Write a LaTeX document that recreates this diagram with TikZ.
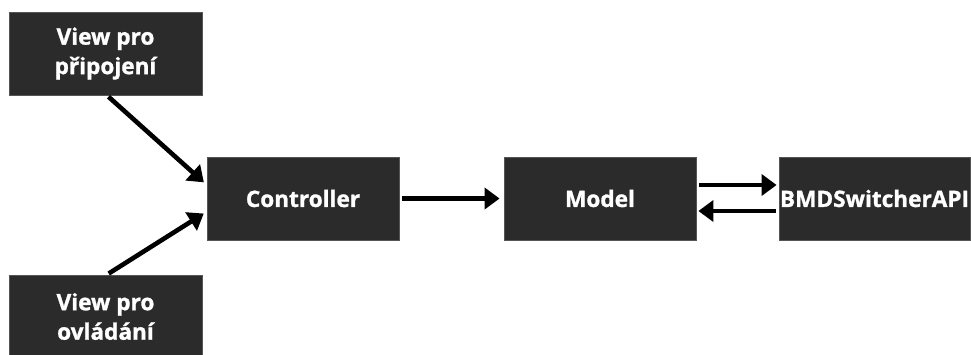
\documentclass[tikz,border=0pt]{standalone}
\usepackage{fontspec}
\setmainfont{Open Sans}[UprightFont=* Bold, FakeBold=1.2]
\usetikzlibrary{arrows.meta}
\definecolor{boxfill}{HTML}{2B2B2B}
\definecolor{boxline}{HTML}{555555}
\begin{document}
\begin{tikzpicture}[x=1pt,y=-1pt,
  box/.style={draw=boxline, line width=0.8pt, fill=boxfill, text=white, minimum width=193pt, minimum height=83pt,
    inner sep=0pt, align=center, font=\fontsize{22.6}{29.5}\selectfont},
  conn/.style={line width=4.6pt, -{Triangle[length=15pt,width=21pt]}}]
\useasboundingbox (0,0) rectangle (971,354);
\clip (0,0) rectangle (971,354);
\node[box] (v1) at (105.5,53.5) {View pro\\připojení};
\node[box] (v2) at (105.5,316.5) {View pro\\ovládání};
\node[box, minimum width=192pt] (ctrl) at (303,198.5) {Controller};
\node[box, minimum width=192pt] (model) at (600,198.5) {Model};
\node[box, minimum width=191pt] (bmd) at (874.5,198.5) {BMDSwitcherAPI};
\draw[conn, shorten <=2pt, shorten >=1pt] ([xshift=1.5pt]v1.south) -- ([yshift=15.5pt,xshift=-2pt]ctrl.west);
\draw[conn, shorten <=2pt, shorten >=1pt] ([xshift=1.5pt]v2.north) -- ([yshift=-14.5pt,xshift=-2pt]ctrl.west);
\draw[conn, shorten <=3pt, shorten >=4pt] (ctrl.east) -- (model.west);
\draw[conn, shorten <=3pt, shorten >=2pt] ([yshift=13.5pt]model.east) -- ([yshift=13.5pt]bmd.west);
\draw[conn, shorten <=3pt, shorten >=2pt] ([yshift=-12.5pt]bmd.west) -- ([yshift=-12.5pt]model.east);
\end{tikzpicture}
\end{document}
